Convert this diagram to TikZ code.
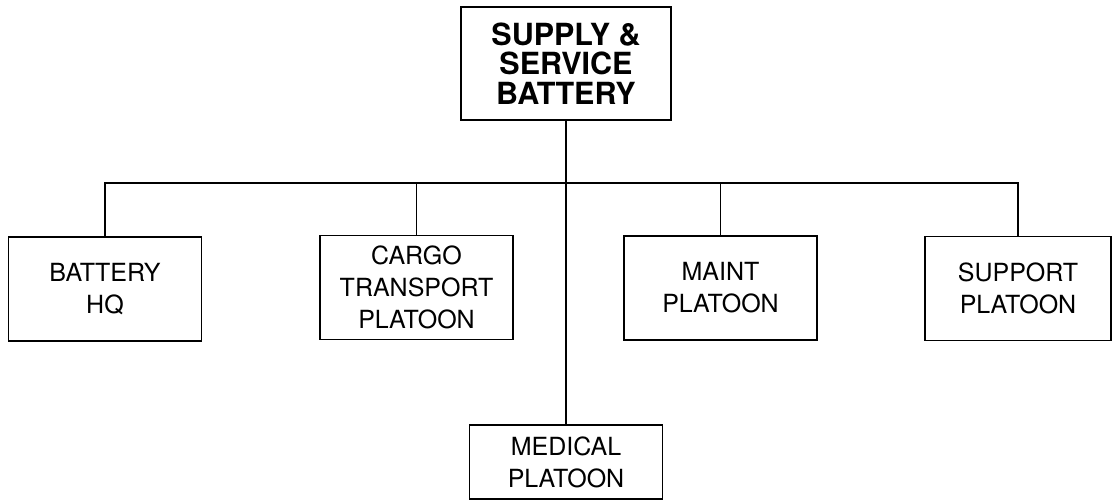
\documentclass[tikz,border=0pt]{standalone}
\usepackage{fontspec}
\setmainfont{TeX Gyre Heros}
\usepackage{tikz}
\usetikzlibrary{positioning, calc}

\begin{document}
\begin{tikzpicture}[
    x=1pt, y=-1pt,
    unitbox/.style={draw, rectangle, line width=1.6pt, inner sep=0pt, align=center,
      minimum width=193pt, minimum height=104pt,
      font=\fontsize{25}{32}\selectfont},
    hqbox/.style={unitbox, minimum width=210pt, minimum height=113pt,
      font=\fontsize{30.5}{29.5}\selectfont\bfseries},
    link/.style={line width=1.6pt}
]
\useasboundingbox (0,0) rectangle (1112,500);
\node[hqbox] (sands) at (566,63.5) {SUPPLY \&\\SERVICE\\BATTERY};
\node[unitbox] (bhq) at (105,289) {BATTERY\\HQ};
\node[unitbox] (cargo) at (416.5,287.5) {CARGO\\TRANSPORT\\PLATOON};
\node[unitbox] (maint) at (720.5,288) {MAINT\\PLATOON};
\node[unitbox, minimum width=186pt] (supp) at (1018,288.5) {SUPPORT\\PLATOON};
\node[unitbox, minimum height=74pt] (med) at (566,462) {MEDICAL\\PLATOON};
\coordinate (bus) at (566,183);

\draw[link] (sands.south) -- (med.north);
\draw[link] (bhq.north) -- (bhq.north |- bus) -- (supp.north |- bus) -- (supp.north);
\draw[link] (cargo.north) -- (cargo.north |- bus);
\draw[link] (maint.north) -- (maint.north |- bus);
\end{tikzpicture}
\end{document}
